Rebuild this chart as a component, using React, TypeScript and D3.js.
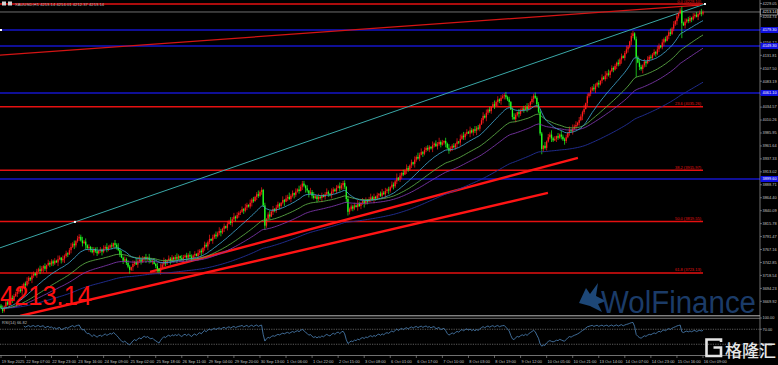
import React from 'react';
import * as d3 from 'd3';

// ---------- DATA (hourly closes, XAUUSD H1) ----------
const firstOpen = 3662;
const closesSep19 = [3657, 3652, 3660, 3668, 3664, 3672, 3676, 3671, 3680];
const closesSep22 = [3684, 3688, 3692, 3689, 3697, 3703, 3700, 3708, 3714, 3711, 3718, 3722, 3719, 3726, 3730, 3727, 3732, 3736, 3731, 3738, 3742, 3739, 3745];
const closesSep23 = [3741, 3746, 3743, 3749, 3752, 3747, 3750, 3755, 3760, 3758, 3766, 3772, 3778, 3775, 3783, 3788, 3791, 3784, 3779, 3782, 3775, 3770, 3772];
const closesSep24 = [3766, 3762, 3768, 3764, 3760, 3765, 3767, 3763, 3769, 3772, 3768, 3771, 3775, 3773, 3779, 3776, 3771, 3766, 3758, 3752, 3746, 3749, 3742];
const closesSep25 = [3735, 3729, 3734, 3740, 3744, 3739, 3745, 3748, 3744, 3750, 3753, 3749, 3752, 3747, 3744, 3746, 3740, 3736, 3731, 3726, 3733, 3739, 3745];
const closesSep26 = [3741, 3747, 3750, 3746, 3752, 3749, 3753, 3750, 3755, 3751, 3748, 3753, 3756, 3752, 3757, 3754, 3750, 3756, 3759, 3755, 3761, 3765, 3762];
const closesSep29 = [3770, 3776, 3773, 3781, 3787, 3784, 3790, 3795, 3792, 3798, 3802, 3799, 3806, 3811, 3808, 3815, 3820, 3817, 3824, 3829, 3826, 3832, 3836];
const closesSep30 = [3838, 3843, 3840, 3846, 3851, 3848, 3855, 3861, 3858, 3866, 3871, 3868, 3875, 3879, 3850, 3812, 3825, 3833, 3829, 3838, 3843, 3840, 3846];
const closesOct01 = [3852, 3849, 3855, 3860, 3857, 3863, 3866, 3862, 3868, 3873, 3870, 3876, 3880, 3877, 3885, 3891, 3887, 3882, 3878, 3872, 3875, 3868, 3864];
const closesOct02 = [3867, 3862, 3866, 3864, 3869, 3866, 3871, 3875, 3872, 3870, 3876, 3880, 3877, 3883, 3886, 3882, 3888, 3892, 3885, 3862, 3838, 3843, 3848];
const closesOct03 = [3844, 3850, 3847, 3853, 3849, 3855, 3858, 3854, 3860, 3857, 3862, 3865, 3861, 3866, 3863, 3869, 3872, 3868, 3874, 3871, 3877, 3880, 3878];
const closesOct06 = [3884, 3889, 3886, 3895, 3902, 3898, 3906, 3911, 3908, 3915, 3920, 3917, 3925, 3931, 3928, 3936, 3941, 3938, 3945, 3950, 3947, 3954, 3958];
const closesOct07 = [3955, 3960, 3957, 3963, 3966, 3961, 3965, 3969, 3964, 3968, 3971, 3966, 3958, 3953, 3957, 3962, 3959, 3965, 3970, 3968, 3975, 3981, 3978];
const closesOct08 = [3984, 3988, 3985, 3991, 3987, 3993, 3990, 3996, 3994, 4002, 4010, 4018, 4015, 4024, 4030, 4027, 4035, 4040, 4037, 4044, 4049, 4046, 4052];
const closesOct09 = [4055, 4057, 4053, 4049, 4044, 4030, 4016, 4012, 4020, 4025, 4022, 4028, 4032, 4029, 4035, 4031, 4038, 4044, 4050, 4056, 4052, 4040, 4026];
const closesOct10 = [3985, 3956, 3962, 3958, 3970, 3978, 3983, 3976, 3972, 3975, 3980, 3977, 3983, 3979, 3974, 3971, 3978, 3986, 3992, 3989, 3994, 3998, 4001];
const closesOct13 = [4005, 4010, 4017, 4025, 4031, 4042, 4055, 4060, 4066, 4071, 4068, 4075, 4080, 4077, 4084, 4090, 4087, 4094, 4098, 4095, 4102, 4108, 4105];
const closesOct14 = [4112, 4118, 4115, 4124, 4130, 4127, 4136, 4143, 4148, 4158, 4168, 4173, 4162, 4128, 4118, 4110, 4106, 4113, 4120, 4117, 4124, 4129, 4127];
const closesOct15 = [4133, 4138, 4135, 4143, 4150, 4147, 4156, 4162, 4159, 4168, 4175, 4172, 4182, 4190, 4196, 4205, 4211, 4216, 4192, 4188, 4195, 4199, 4196];
const closesOct16 = [4202, 4199, 4205, 4208, 4204, 4209, 4212, 4210, 4213.14];

const closes: number[] = [
  ...closesSep19, ...closesSep22, ...closesSep23, ...closesSep24, ...closesSep25, ...closesSep26,
  ...closesSep29, ...closesSep30, ...closesOct01, ...closesOct02, ...closesOct03,
  ...closesOct06, ...closesOct07, ...closesOct08, ...closesOct09, ...closesOct10,
  ...closesOct13, ...closesOct14, ...closesOct15, ...closesOct16,
];

// upper / lower shadow lengths in dollars, one digit per bar (hand read)
const upperShadows =
  '352463254' +
  '42635247316425374251634' + '35274163524736251473625' + '26438152637425163847253' + '53172648351627435261847' +
  '42635247316425374251634' + '26438152637425163847253' + '35274163524736251473625' + '53172648351627435261847' +
  '42635247316425374251634' + '35274163524736251473625' + '26438152637425163847253' + '53172648351627435261847' +
  '35274163524736251473625' + '42635247316425374251634' + '53172648351627435261847' + '26438152637425163847253' +
  '42635247316425374251634' + '35274163524736251473625' +
  '426352473';
const lowerShadows =
  '243526341' +
  '26438152637425163847253' + '53172648351627435261847' + '42635247316425374251634' + '35274163524736251473625' +
  '53172648351627435261847' + '35274163524736251473625' + '42635247316425374251634' + '26438152637425163847253' +
  '26438152637425163847253' + '53172648351627435261847' + '42635247316425374251634' + '35274163524736251473625' +
  '53172648351627435261847' + '26438152637425163847253' + '42635247316425374251634' + '35274163524736251473625' +
  '26438152637425163847253' + '42635247316425374251634' +
  '352416253';

// notable extremes: [bar index, high, low]
const extremes: [number, number | null, number | null][] = [
  [48, 3796, null], [79, null, 3722], [97, null, 3721], [160, 3884, null], [162, null, 3804],
  [185, 3896, null], [210, 3896, null], [213, null, 3831], [309, 4061, null], [327, 4060, null],
  [332, null, 3946], [388, 4178, null], [390, null, 4091], [417, 4220, null], [418, null, 4164],
];

const timeLabels: [number, string][] = [
  [0, '19 Sep 2025'], [15, '22 Sep 07:00'], [31, '22 Sep 23:00'], [47, '23 Sep 16:00'], [63, '24 Sep 09:00'],
  [79, '25 Sep 02:00'], [95, '25 Sep 18:00'], [111, '26 Sep 11:00'], [127, '29 Sep 04:00'], [143, '29 Sep 20:00'],
  [159, '30 Sep 13:00'], [175, '1 Oct 06:00'], [191, '1 Oct 22:00'], [207, '2 Oct 15:00'], [223, '3 Oct 08:00'],
  [239, '6 Oct 01:00'], [255, '6 Oct 17:00'], [271, '7 Oct 10:00'], [287, '8 Oct 03:00'], [303, '8 Oct 19:00'],
  [319, '9 Oct 12:00'], [335, '10 Oct 05:00'], [351, '10 Oct 21:00'], [367, '13 Oct 14:00'], [383, '14 Oct 07:00'],
  [399, '14 Oct 23:00'], [415, '15 Oct 16:00'], [431, '16 Oct 09:00'],
];

const priceTicks = [
  4229.05, 4204.74, 4180.43, 4156.12, 4131.81, 4107.5, 4083.19, 4058.88, 4034.57, 4010.26, 3985.95, 3961.64,
  3937.33, 3913.02, 3888.71, 3864.4, 3840.09, 3815.78, 3791.47, 3767.16, 3742.85, 3718.54, 3694.23, 3669.92,
];
const rsiTicks = [100, 70, 30];
const rsiLevels = [70, 30];

const fibHigh = 4228.1;
const fibLow = 3411.0;
const fibLevels = [0, 23.6, 38.2, 50, 61.8];
const blueLevels = [4179.3, 4149.3, 4061.1, 3899.6];
const lastPrice = 4213.14;

// trendlines: [[bar, price], [bar, price]]
const channelLine: [number, number][] = [[45.4, 3819], [432.2, 4228.1]];
const thinRedLine: [number, number][] = [[0, 4132.4], [429, 4226]];
const supportLower: [number, number][] = [[11.7, 3642.5], [335.8, 3873.4]];
const supportUpper: [number, number][] = [[91.5, 3725.1], [354.2, 3939.1]];

const maSpecs: { period: number; color: string }[] = [
  { period: 150, color: '#23309a' },
  { period: 70, color: '#7a35a8' },
  { period: 45, color: '#5aa844' },
  { period: 20, color: '#3c9cc4' },
];

// ---------- helpers ----------
function ema(values: number[], n: number) {
  const k = 2 / (n + 1);
  let e = values[0];
  return values.map((v, i) => (i === 0 ? e : (e = v * k + e * (1 - k))));
}
function rsi(values: number[], n: number) {
  const out: (number | null)[] = values.map(() => null);
  let g = 0, l = 0;
  for (let i = 1; i <= n; i++) {
    const d = values[i] - values[i - 1];
    g += Math.max(d, 0); l += Math.max(-d, 0);
  }
  g /= n; l /= n;
  out[n] = 100 - 100 / (1 + g / (l || 1e-9));
  for (let i = n + 1; i < values.length; i++) {
    const d = values[i] - values[i - 1];
    g = (g * (n - 1) + Math.max(d, 0)) / n;
    l = (l * (n - 1) + Math.max(-d, 0)) / n;
    out[i] = 100 - 100 / (1 + g / (l || 1e-9));
  }
  return out;
}

const AXIS_FONT = 'Liberation Sans, Arial, sans-serif';
const AXIS_COLOR = '#c4c4c4';

export default function App() {
  const n = closes.length;
  const x = d3.scaleLinear().domain([0, n - 1]).range([1, 703]);
  const y = d3.scaleLinear().domain([3648, 4230]).range([313, 3]);
  const yR = d3.scaleLinear().domain([0, 100]).range([355.5, 318]);

  const opens = closes.map((c, i) => (i === 0 ? firstOpen : closes[i - 1]));
  const highs = closes.map((c, i) => Math.max(c, opens[i]) + +(upperShadows[i] ?? 2));
  const lows = closes.map((c, i) => Math.min(c, opens[i]) - +(lowerShadows[i] ?? 2));
  extremes.forEach(([i, h, l]) => {
    if (h != null) highs[i] = h;
    if (l != null) lows[i] = l;
  });

  const line = d3.line<number>().x((_, i) => x(i)).y((v) => y(v));
  const rsiVals = rsi(closes, 14);
  const rsiLine = d3
    .line<number | null>()
    .defined((v) => v != null)
    .x((_, i) => x(i))
    .y((v) => yR(v as number));

  const seg = (pts: [number, number][], extendLeft: boolean) => {
    const [[i1, p1], [i2, p2]] = pts;
    const slope = (p2 - p1) / (i2 - i1);
    const s = extendLeft ? -2 : i1;
    return { x1: x(s), y1: y(p1 + (s - i1) * slope), x2: x(i2), y2: y(p2) };
  };

  const ch = seg(channelLine, true);
  const tr = seg(thinRedLine, true);
  const sl = seg(supportLower, false);
  const su = seg(supportUpper, false);

  const lastRsi = rsiVals[n - 1] as number;

  return (
    <svg width={778} height={365} style={{ position: 'absolute', left: 0, top: 0, background: '#000' }}>
      <defs>
        <clipPath id="main"><rect x={0} y={0} width={760} height={315} /></clipPath>
        <clipPath id="rsi"><rect x={0} y={319} width={760} height={36} /></clipPath>
      </defs>
      <rect x={0} y={0} width={778} height={365} fill="#000" />

      <g clipPath="url(#main)">
        {/* bid line */}
        <line x1={0} x2={760} y1={y(lastPrice)} y2={y(lastPrice)} stroke="#8c8c8c" strokeWidth={0.8} />
        {/* blue horizontal levels */}
        {blueLevels.map((p, k) => (
          <line key={k} x1={0} x2={760} y1={y(p)} y2={y(p)} stroke="#1414c8" strokeWidth={1.4} />
        ))}
        {/* fibo levels */}
        {fibLevels.map((lv, k) => {
          const p = fibHigh - ((fibHigh - fibLow) * lv) / 100;
          return (
            <g key={k}>
              <line x1={0} x2={703} y1={y(p)} y2={y(p)} stroke="#e51010" strokeWidth={1.5} />
              <text x={701} y={y(p) - 1.5} fontSize={4} fill="#e51010" textAnchor="end" fontFamily={AXIS_FONT}>
                {`${lv.toFixed(1)} (${p.toFixed(2)})`}
              </text>
            </g>
          );
        })}
        {/* trendlines */}
        <line {...ch} stroke="#3aa7a7" strokeWidth={1} />
        <line {...tr} stroke="#d41414" strokeWidth={1.2} />
        <line {...sl} stroke="#ff1414" strokeWidth={2.4} />
        <line {...su} stroke="#ff1414" strokeWidth={2.4} />

        {/* candles */}
        {closes.map((c, i) => {
          const o = opens[i];
          const col = c >= o ? '#ff1a1a' : '#22ff22';
          const cx = x(i);
          const top = y(Math.max(o, c));
          const h = Math.max(0.7, Math.abs(y(o) - y(c)));
          return (
            <g key={i}>
              <line x1={cx} x2={cx} y1={y(highs[i])} y2={y(lows[i])} stroke={col} strokeWidth={0.7} />
              <rect x={cx - 0.65} y={top} width={1.3} height={h} fill={col} />
            </g>
          );
        })}

        {/* moving averages */}
        {maSpecs.map((m, k) => (
          <path key={k} d={line(ema(closes, m.period)) || ''} fill="none" stroke={m.color} strokeWidth={0.9} />
        ))}

        {/* trendline anchors */}
        <rect x={x(channelLine[0][0]) - 1} y={y(channelLine[0][1]) - 1} width={2} height={2} fill="#fff" />
        <rect x={x(channelLine[1][0]) - 1} y={y(channelLine[1][1]) - 1} width={2} height={2} fill="#fff" />
        <rect x={0} y={y(blueLevels[0]) - 1} width={2} height={2} fill="#fff" />

        {/* big price text */}
        <text x={0} y={305} fontSize={27} fill="#ff1010" fontFamily="Liberation Sans, Arial, sans-serif" textLength={92} lengthAdjust="spacingAndGlyphs">
          {lastPrice.toFixed(2)}
        </text>
      </g>

      {/* title */}
      <rect x={2} y={1.5} width={4} height={4} fill="#d0d0d0" />
      <rect x={8} y={1.5} width={4} height={4} fill="#d0d0d0" />
      <text x={15} y={5.5} fontSize={4.2} fill="#bdbdbd" fontFamily={AXIS_FONT}>
        XAUUSD,H1  4213.14 4214.01 4212.37 4213.14
      </text>

      {/* separator between windows */}
      <line x1={0} x2={760} y1={315.8} y2={315.8} stroke="#b8b8b8" strokeWidth={1} />
      <line x1={0} x2={760} y1={318.3} y2={318.3} stroke="#8a8a8a" strokeWidth={0.8} />

      {/* RSI window */}
      <g clipPath="url(#rsi)">
        {rsiLevels.map((lv) => (
          <line key={lv} x1={0} x2={760} y1={yR(lv)} y2={yR(lv)} stroke="#9a9a9a" strokeWidth={0.6} strokeDasharray="1.2,1.2" />
        ))}
        <path d={rsiLine(rsiVals) || ''} fill="none" stroke="#4f86bd" strokeWidth={0.8} />
      </g>
      <text x={2} y={323.5} fontSize={4} fill="#bdbdbd" fontFamily={AXIS_FONT}>
        {`RSI(14) ${lastRsi.toFixed(2)}`}
      </text>

      {/* bottom border and time axis */}
      <line x1={0} x2={760} y1={355.5} y2={355.5} stroke="#a0a0a0" strokeWidth={0.7} />
      {timeLabels.map(([i, s]) => (
        <g key={i}>
          <line x1={x(i)} x2={x(i)} y1={355.5} y2={358} stroke="#a0a0a0" strokeWidth={0.6} />
          <text x={x(i) + 0.8} y={362.5} fontSize={4} fill={AXIS_COLOR} fontFamily={AXIS_FONT}>{s}</text>
        </g>
      ))}

      {/* right price axis */}
      <line x1={760} x2={760} y1={0} y2={355.5} stroke="#a0a0a0" strokeWidth={0.7} />
      {priceTicks.map((p) => (
        <g key={p}>
          <line x1={760} x2={762} y1={y(p)} y2={y(p)} stroke="#a0a0a0" strokeWidth={0.6} />
          <text x={762.5} y={y(p) + 1.4} fontSize={3.9} fill={AXIS_COLOR} fontFamily={AXIS_FONT}>{p.toFixed(2)}</text>
        </g>
      ))}
      {rsiTicks.map((v) => (
        <g key={v}>
          <line x1={760} x2={762} y1={yR(v)} y2={yR(v)} stroke="#a0a0a0" strokeWidth={0.6} />
          <text x={762.5} y={yR(v) + 1.4} fontSize={3.9} fill={AXIS_COLOR} fontFamily={AXIS_FONT}>{v.toFixed(2)}</text>
        </g>
      ))}
      {blueLevels.map((p) => (
        <g key={p}>
          <rect x={760.5} y={y(p) - 3} width={17.5} height={6} fill="#1010e0" />
          <text x={762.5} y={y(p) + 1.4} fontSize={3.9} fill="#ffffff" fontFamily={AXIS_FONT}>{p.toFixed(2)}</text>
        </g>
      ))}
      <rect x={760.5} y={y(lastPrice) - 3} width={17} height={6} fill="#000" stroke="#c8c8c8" strokeWidth={0.6} />
      <text x={762.5} y={y(lastPrice) + 1.4} fontSize={3.9} fill="#e8e8e8" fontFamily={AXIS_FONT}>{lastPrice.toFixed(2)}</text>

      {/* WolFinance watermark */}
      <path d="M579,303 L586,288 L590,294 L598,283 L596,296 L606,301 L598,304 L602,312 L590,306 Z" fill="#22538c" opacity={0.85} />
      <text x={601} y={313} fontSize={31} fill="#1d3f6e" fontFamily="Liberation Sans, Arial, sans-serif" textLength={155} lengthAdjust="spacingAndGlyphs" opacity={0.95}>
        WolFinance
      </text>

      {/* 格隆汇 watermark */}
      <path d="M721,342 L721,339.5 L706.5,339.5 L706.5,356 L721,356 L721,347.5 L713.5,347.5" fill="none" stroke="#e4e4e4" strokeWidth={2.6} />
      <text x={725} y={357} fontSize={17} fill="#e6e6e6" fontFamily="Noto Sans CJK SC, sans-serif" fontWeight={500}>
        格隆汇
      </text>
    </svg>
  );
}
